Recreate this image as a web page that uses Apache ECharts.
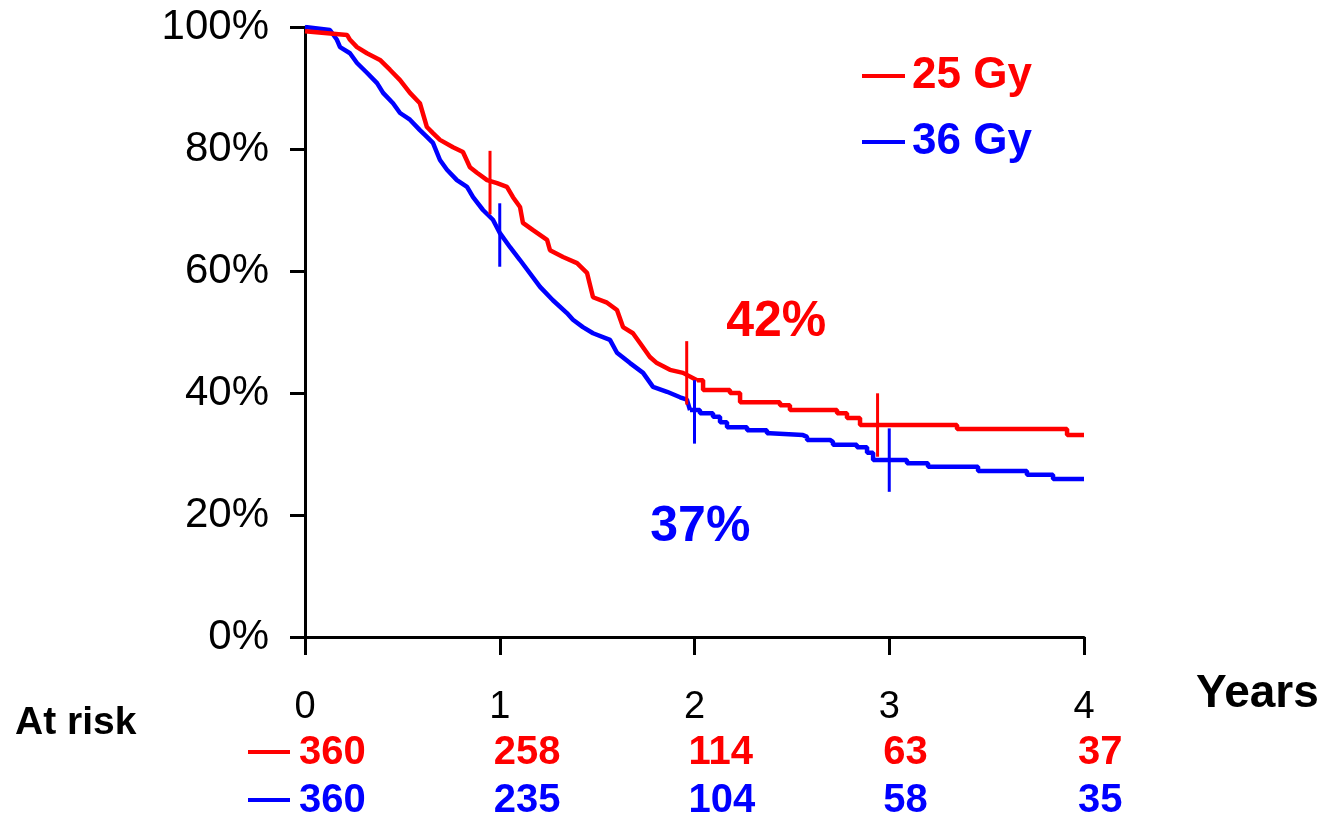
<!DOCTYPE html>
<html>
<head>
<meta charset="utf-8">
<script src="https://cdn.jsdelivr.net/npm/echarts@6/dist/echarts.min.js"></script>
<style>
html, body { margin: 0; padding: 0; background: #fff; }
#main { width: 1323px; height: 817px; }
</style>
</head>
<body>
<div id="main"></div>
<script>
// 生存曲线数据 (年, %) — 前段密集下降, 后段阶梯
var redEarlyT = [0, 0.144, 0.216, 0.231, 0.267, 0.318, 0.385, 0.436, 0.488, 0.539, 0.590, 0.626, 0.657, 0.693, 0.760, 0.811, 0.847, 0.883, 0.935, 0.986, 1.037, 1.068, 1.104, 1.119, 1.171, 1.243, 1.258, 1.325, 1.397, 1.448, 1.479, 1.551, 1.602, 1.633, 1.684, 1.720, 1.771, 1.807, 1.874, 1.941, 2.013];
var redEarlyS = [99.3, 98.9, 98.7, 97.9, 96.7, 95.7, 94.6, 93.0, 91.3, 89.2, 87.5, 83.6, 82.6, 81.5, 80.3, 79.5, 77.0, 76.1, 74.9, 74.4, 73.8, 72.1, 70.5, 67.9, 66.7, 65.1, 63.4, 62.3, 61.3, 59.7, 55.7, 54.8, 53.6, 50.8, 49.8, 48.2, 45.9, 44.9, 43.8, 43.3, 42.1];
var redLateT = [2.013, 2.044, 2.182, 2.234, 2.439, 2.490, 2.732, 2.783, 2.850, 3.348, 3.913, 4.0];
var redLateS = [42.1, 40.5, 40.0, 38.5, 38.0, 37.2, 36.7, 35.9, 34.75, 34.1, 33.1, 33.1];

var blueEarlyT = [0, 0.128, 0.164, 0.180, 0.231, 0.267, 0.318, 0.370, 0.401, 0.452, 0.488, 0.539, 0.590, 0.626, 0.657, 0.693, 0.729, 0.780, 0.832, 0.863, 0.914, 0.965, 1.001, 1.053, 1.104, 1.207, 1.273, 1.345, 1.376, 1.427, 1.479, 1.566, 1.602, 1.669, 1.736, 1.787, 1.859, 1.926, 1.961, 1.977];
var blueEarlyS = [100, 99.5, 97.9, 96.7, 95.7, 94.1, 92.5, 90.8, 89.2, 87.5, 85.9, 84.8, 83.1, 82.0, 81.0, 78.2, 76.6, 74.9, 73.8, 72.1, 70.0, 68.4, 66.2, 63.9, 61.8, 57.4, 55.2, 53.1, 52.0, 50.8, 49.8, 48.7, 46.6, 44.9, 43.3, 41.0, 40.2, 39.3, 38.9, 37.2];
var blueLateT = [1.977, 2.028, 2.095, 2.131, 2.167, 2.270, 2.372, 2.388, 2.557, 2.578, 2.696, 2.711, 2.834, 2.886, 2.917, 3.091, 3.199, 3.456, 3.707, 3.841, 4.0];
var blueLateS = [37.2, 36.7, 36.1, 35.2, 34.4, 33.9, 33.4, 33.1, 32.8, 32.3, 32.0, 31.5, 31.1, 30.2, 29.0, 28.5, 27.9, 27.2, 26.6, 25.9, 25.9];

// 删失标记
var redCensor = [[0.95, 74.5], [1.96, 43.3], [2.94, 34.75]];
var blueCensor = [[1.0, 65.9], [2.0, 36.9], [3.0, 29.0]];

// 风险人数
var riskYears = [0, 1, 2, 3, 4];
var redRisk = ['360', '258', '114', '63', '37'];
var blueRisk = ['360', '235', '104', '58', '35'];

var seriesNames = ['25 Gy', '36 Gy'];
var RED = '#ff0000';
var BLUE = '#0000ff';
var FONT = '"Liberation Sans", Arial, sans-serif';

function zip(a, b) {
    var out = [];
    for (var i = 0; i < a.length; i++) out.push([a[i], b[i]]);
    return out;
}

function curve(name, color, data, step) {
    return {
        name: name, type: 'line', step: step, showSymbol: false,
        color: color, lineStyle: { color: color, width: 4.5 },
        data: data
    };
}

function censorItem(color) {
    return function (params, api) {
        var p1 = api.coord([api.value(0), api.value(1) + 5.2]);
        var p2 = api.coord([api.value(0), api.value(1) - 5.2]);
        return {
            type: 'line',
            shape: { x1: p1[0], y1: p1[1], x2: p2[0], y2: p2[1] },
            style: { stroke: color, lineWidth: 3 }
        };
    };
}

var chart = echarts.init(document.getElementById('main'));

var option = {
    animation: false,
    backgroundColor: '#fff',
    grid: { left: 305, top: 27, right: 239, bottom: 180, containLabel: false },
    legend: {
        orient: 'vertical',
        left: 857,
        top: 49,
        itemWidth: 43,
        itemHeight: 4,
        itemGap: 22,
        icon: 'rect',
        textStyle: { fontFamily: FONT, fontWeight: 'bold', fontSize: 44, padding: [0, 0, 0, 2] },
        data: [
            { name: seriesNames[0], textStyle: { color: RED } },
            { name: seriesNames[1], textStyle: { color: BLUE } }
        ]
    },
    xAxis: {
        type: 'value',
        min: 0,
        max: 4,
        interval: 1,
        splitLine: { show: false },
        axisLine: { lineStyle: { color: '#000', width: 3 } },
        axisTick: { length: 18, lineStyle: { color: '#000', width: 3 } },
        axisLabel: { margin: 52, fontFamily: FONT, fontSize: 38, color: '#000' }
    },
    yAxis: {
        type: 'value',
        min: 0,
        max: 100,
        interval: 20,
        splitLine: { show: false },
        axisLine: { show: true, lineStyle: { color: '#000', width: 3 } },
        axisTick: { show: true, length: 15, lineStyle: { color: '#000', width: 3 } },
        axisLabel: { margin: 36, fontFamily: FONT, fontSize: 42, color: '#000', formatter: '{value}%' }
    },
    series: [
        curve(seriesNames[1], BLUE, zip(blueEarlyT, blueEarlyS), false),
        curve(seriesNames[1], BLUE, zip(blueLateT, blueLateS), 'end'),
        curve(seriesNames[0], RED, zip(redEarlyT, redEarlyS), false),
        curve(seriesNames[0], RED, zip(redLateT, redLateS), 'end'),
        { type: 'custom', renderItem: censorItem(RED), data: redCensor, z: 4 },
        { type: 'custom', renderItem: censorItem(BLUE), data: blueCensor, z: 4 }
    ]
};
chart.setOption(option);

// 文本标注 (按坐标换算)
var g = [];
function px(t, s) { return chart.convertToPixel({ gridIndex: 0 }, [t, s]); }

for (var i = 0; i < riskYears.length; i++) {
    var x = px(riskYears[i], 0)[0] - 6;
    g.push({ type: 'text', left: x, top: 733, style: { text: redRisk[i], fill: RED, font: 'bold 40px ' + FONT } });
    g.push({ type: 'text', left: x, top: 781, style: { text: blueRisk[i], fill: BLUE, font: 'bold 40px ' + FONT } });
}
g.push({ type: 'rect', shape: { x: 248, y: 750, width: 42, height: 4 }, style: { fill: RED } });
g.push({ type: 'rect', shape: { x: 248, y: 798, width: 42, height: 4 }, style: { fill: BLUE } });
g.push({ type: 'text', left: 15, top: 704, style: { text: 'At risk', fill: '#000', font: 'bold 39px ' + FONT } });
g.push({ type: 'text', left: 1196, top: 671, style: { text: 'Years', fill: '#000', font: 'bold 46px ' + FONT } });

var p42 = px(2.42, 51.6);
var p37 = px(2.03, 18.0);
g.push({ type: 'text', x: p42[0], y: p42[1], style: { text: '42%', fill: RED, font: 'bold 50px ' + FONT, align: 'center', verticalAlign: 'middle' } });
g.push({ type: 'text', x: p37[0], y: p37[1], style: { text: '37%', fill: BLUE, font: 'bold 50px ' + FONT, align: 'center', verticalAlign: 'middle' } });

chart.setOption({ graphic: g });
</script>
</body>
</html>
